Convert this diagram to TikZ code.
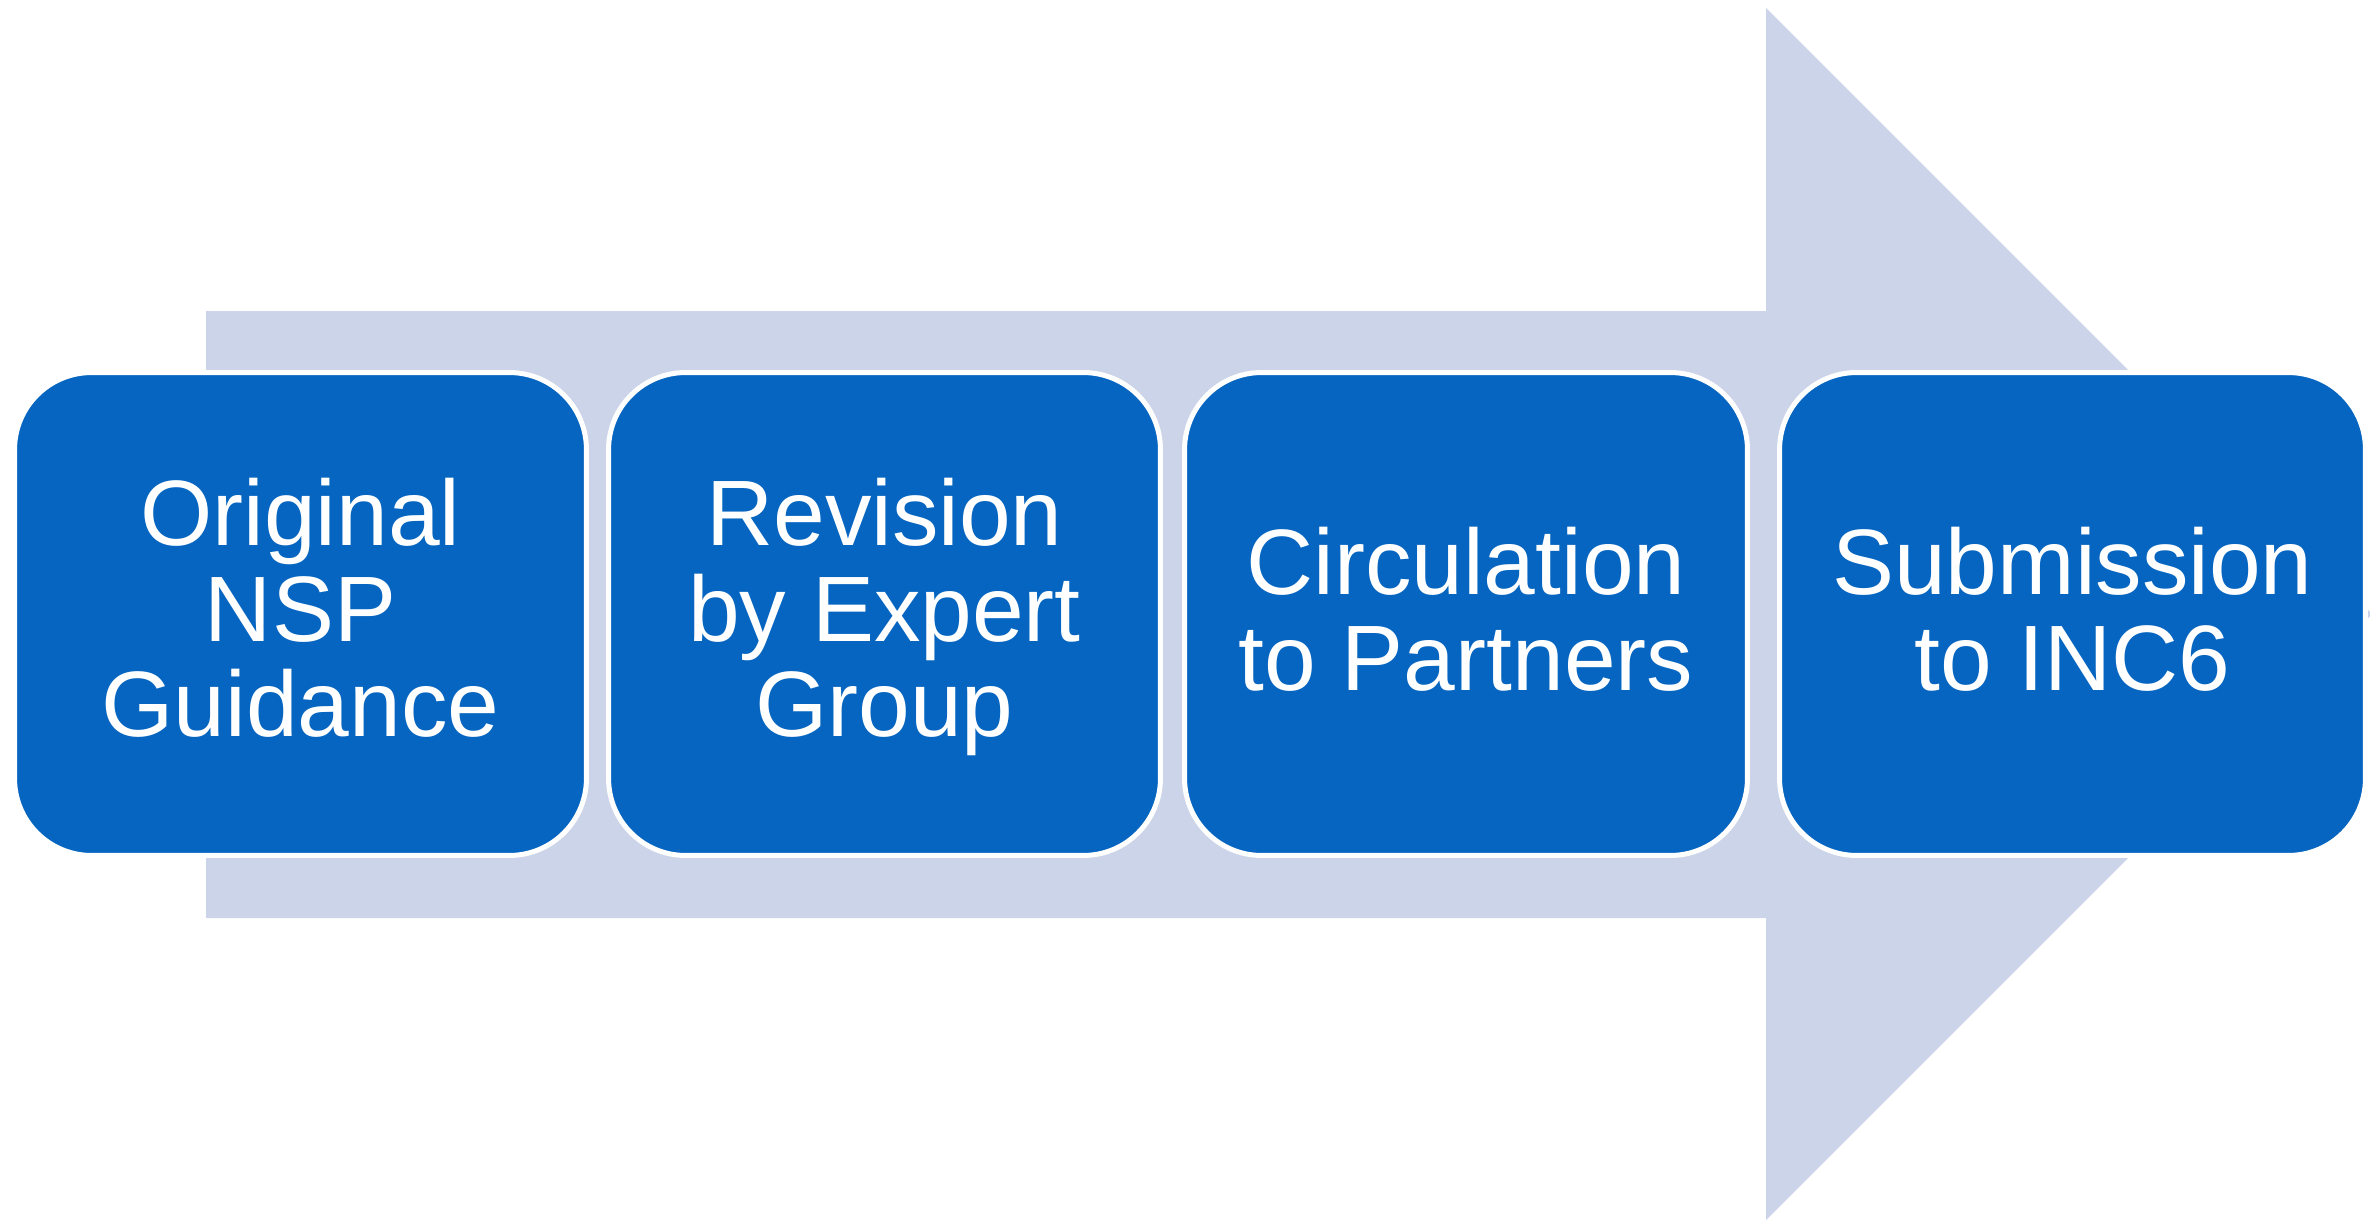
\documentclass[tikz,border=0pt]{standalone}
\usepackage{fontspec}
\setmainfont{Liberation Sans}
\definecolor{arrowfill}{HTML}{CBD4E8}
\definecolor{boxblue}{HTML}{0565C0}
\begin{document}
\begin{tikzpicture}[x=0.02cm,y=-0.02cm,
  stepbox/.style={rectangle, fill=boxblue, draw=white, line width=0.1cm, rounded corners=1.54cm, inner sep=0pt, minimum height=9.66cm},
  steptext/.style={text=white, align=center, font=\fontsize{52.9pt}{54.6pt}\selectfont, inner sep=0pt}]
\useasboundingbox (0,0) rectangle (2370,1220);
\fill[arrowfill] (206,311) -- (1766,311) -- (1766,8) -- (2372,614) -- (1766,1220) -- (1766,918) -- (206,918) -- cycle;
\node[stepbox, minimum width=11.44cm] (b1) at (300.5,614) {};
\node[stepbox, minimum width=11.04cm] (b2) at (884.5,614) {};
\node[stepbox, minimum width=11.26cm] (b3) at (1466,614) {};
\node[stepbox, minimum width=11.72cm] (b4) at (2072.5,614) {};
\node[steptext] (t1) at (300.5,607.8) {Original\\NSP\\Guidance};
\node[steptext] (t2) at (884.5,617) {Revision\\by Expert\\Group};
\node[steptext] (t3) at (1466,609.5) {Circulation\\to Partners};
\node[steptext] (t4) at (2072.5,609.5) {Submission\\to INC6};
\end{tikzpicture}
\end{document}
